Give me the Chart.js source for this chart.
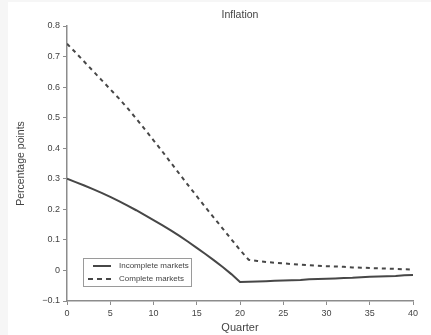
<!DOCTYPE html>
<html>
<head>
<meta charset="utf-8">
<script src="https://cdn.jsdelivr.net/npm/chart.js@4.4.0/dist/chart.umd.min.js"></script>
<style>
    html, body { margin: 0; padding: 0; background: #f6f6f6; }
    #wrap { position: absolute; left: 8px; top: 2px; width: 423px; height: 333px; background: #ffffff; }
</style>
</head>
<body>
<div id="wrap"><canvas id="inflationChart" width="423" height="333"></canvas></div>
<script>
// Inflation response, quarters 0..40
const quarters = [
    0, 1, 2, 3, 4, 5, 6, 7, 8, 9, 10, 11, 12, 13, 14, 15, 16, 17, 18, 19, 20,
    21, 22, 23, 24, 25, 26, 27, 28, 29, 30, 31, 32, 33, 34, 35, 36, 37, 38, 39, 40
];
const incompleteMarkets = [
    0.300, 0.289, 0.278, 0.266, 0.254, 0.241, 0.227, 0.212, 0.197, 0.181, 0.165,
    0.148, 0.131, 0.113, 0.094, 0.074, 0.054, 0.033, 0.011, -0.012, -0.038,
    -0.037, -0.036, -0.035, -0.034, -0.033, -0.032, -0.031, -0.029, -0.028, -0.027,
    -0.026, -0.025, -0.024, -0.022, -0.021, -0.020, -0.019, -0.018, -0.016, -0.015
];
const completeMarkets = [
    0.742, 0.713, 0.683, 0.653, 0.623, 0.593, 0.563, 0.531, 0.497, 0.462, 0.426,
    0.390, 0.353, 0.316, 0.279, 0.243, 0.207, 0.172, 0.137, 0.102, 0.067,
    0.035, 0.031, 0.028, 0.025, 0.023, 0.021, 0.019, 0.017, 0.015, 0.014,
    0.013, 0.012, 0.010, 0.009, 0.008, 0.007, 0.006, 0.005, 0.004, 0.003
];
const seriesLabels = ['Incomplete markets', 'Complete markets'];
const yTicks = [-0.1, 0, 0.1, 0.2, 0.3, 0.4, 0.5, 0.6, 0.7, 0.8];
const xTicks = [0, 5, 10, 15, 20, 25, 30, 35, 40];

const FONT = '"Liberation Sans", Arial, sans-serif';
const LINE = '#474747';
const AXIS = '#8c8c8c';
const TEXT = '#444444';

function toPoints(ys) {
    return quarters.map((q, i) => ({ x: q, y: ys[i] }));
}

function fmtTick(v) {
    const r = Math.round(v * 10) / 10;
    if (r === 0) return '0';
    if (r < 0) return '\u2212' + Math.abs(r).toFixed(1);
    return r.toFixed(1);
}

// title + in-plot legend box
const overlay = {
    id: 'overlay',
    afterDraw(chart) {
        const ctx = chart.ctx;
        const a = chart.chartArea;
        ctx.save();
        ctx.fillStyle = TEXT;
        ctx.font = '10.5px ' + FONT;
        ctx.textAlign = 'center';
        ctx.textBaseline = 'middle';
        ctx.fillText('Inflation', (a.left + a.right) / 2, 13.5);

        const bx = a.left + 16, by = a.bottom - 43, bw = 108, bh = 28;
        ctx.fillStyle = '#ffffff';
        ctx.fillRect(bx, by, bw, bh);
        ctx.strokeStyle = '#9a9a9a';
        ctx.lineWidth = 1;
        ctx.strokeRect(bx + 0.5, by + 0.5, bw, bh);

        const sets = chart.data.datasets;
        sets.forEach((ds, i) => {
            const y = by + 8 + i * 13;
            ctx.strokeStyle = ds.borderColor;
            ctx.lineWidth = ds.borderWidth;
            ctx.setLineDash(ds.borderDash ? [5, 4] : []);
            ctx.beginPath();
            ctx.moveTo(bx + (i === 0 ? 10 : 5), y);
            ctx.lineTo(bx + 28, y);
            ctx.stroke();
            ctx.setLineDash([]);
            ctx.fillStyle = TEXT;
            ctx.font = '8px ' + FONT;
            ctx.textAlign = 'left';
            ctx.textBaseline = 'middle';
            ctx.fillText(ds.label, bx + 36, y);
        });
        ctx.restore();
    }
};

new Chart(document.getElementById('inflationChart'), {
    type: 'line',
    data: {
        datasets: [{
            label: seriesLabels[0],
            data: toPoints(incompleteMarkets),
            borderColor: LINE,
            borderWidth: 2,
            pointRadius: 0,
            tension: 0,
            fill: false
        }, {
            label: seriesLabels[1],
            data: toPoints(completeMarkets),
            borderColor: LINE,
            borderWidth: 2,
            borderDash: [4, 4],
            pointRadius: 0,
            tension: 0,
            fill: false
        }]
    },
    options: {
        responsive: false,
        animation: false,
        layout: { padding: { top: 24, right: 18, left: 0, bottom: 0 } },
        plugins: {
            legend: { display: false },
            tooltip: { enabled: false }
        },
        scales: {
            x: {
                type: 'linear',
                min: 0,
                max: 40,
                afterBuildTicks: s => { s.ticks = xTicks.map(v => ({ value: v })); },
                afterFit: s => { s.height = 34; },
                border: { color: AXIS, width: 1.5 },
                grid: { drawOnChartArea: false, tickLength: 4, color: AXIS },
                ticks: {
                    color: TEXT,
                    padding: 3,
                    maxRotation: 0,
                    font: { family: FONT, size: 9 }
                },
                title: {
                    display: true,
                    text: 'Quarter',
                    color: TEXT,
                    padding: { top: 1, bottom: 0 },
                    font: { family: FONT, size: 11 }
                }
            },
            y: {
                type: 'linear',
                min: -0.1,
                max: 0.8,
                afterBuildTicks: s => { s.ticks = yTicks.map(v => ({ value: v })); },
                afterFit: s => { s.width = 59; },
                border: { color: AXIS, width: 1.5 },
                grid: { drawOnChartArea: false, tickLength: 4, color: AXIS },
                ticks: {
                    color: TEXT,
                    padding: 3,
                    callback: v => fmtTick(v),
                    font: { family: FONT, size: 9 }
                },
                title: {
                    display: true,
                    text: 'Percentage points',
                    color: TEXT,
                    padding: { top: 7, bottom: 0 },
                    font: { family: FONT, size: 10.5 }
                }
            }
        }
    },
    plugins: [overlay]
});
</script>
</body>
</html>
